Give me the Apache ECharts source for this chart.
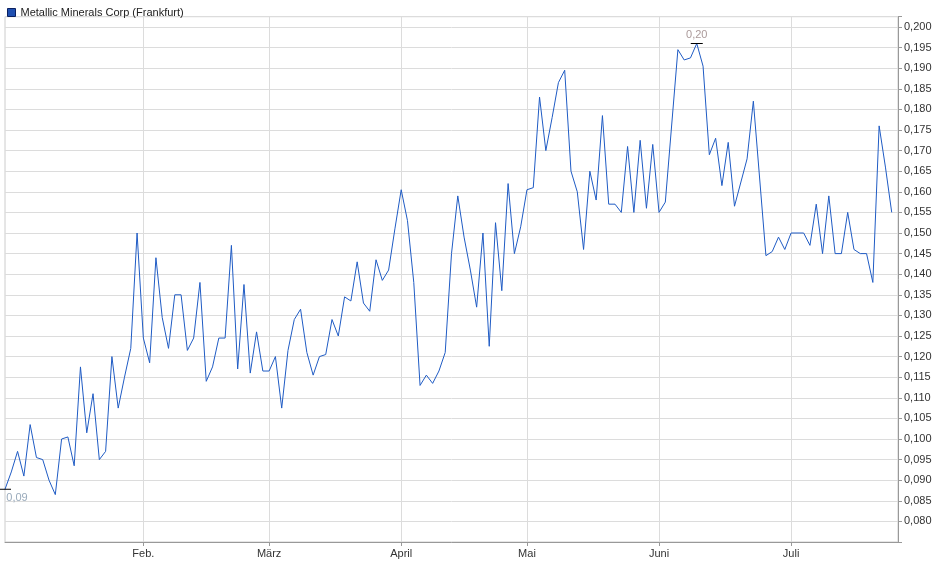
<!DOCTYPE html><html><head><meta charset="utf-8"><script src="https://cdn.jsdelivr.net/npm/echarts@6/dist/echarts.min.js"></script></head><body style="margin:0"><div id="c" style="width:940px;height:579px"></div><script>
const monthLabels = {22:'Feb.',42:'März',63:'April',83:'Mai',104:'Juni',125:'Juli'};
const values = [0.0878,0.092,0.097,0.091,0.1035,0.0955,0.095,0.090,0.0865,0.100,
0.1005,0.0935,0.1175,0.1015,0.111,0.095,0.097,0.120,0.1075,0.115,
0.122,0.150,0.1245,0.1185,0.144,0.1295,0.122,0.135,0.135,0.1215,
0.1245,0.138,0.114,0.1175,0.1245,0.1245,0.147,0.117,0.1375,0.116,
0.126,0.1165,0.1165,0.120,0.1075,0.1215,0.129,0.1315,0.121,0.1155,
0.120,0.1205,0.129,0.125,0.1345,0.1335,0.143,0.133,0.131,0.1435,
0.1385,0.141,0.151,0.1605,0.153,0.138,0.113,0.1155,0.1135,0.1165,
0.121,0.145,0.159,0.149,0.141,0.132,0.150,0.1225,0.1525,0.136,
0.162,0.145,0.1515,0.1605,0.161,0.183,0.170,0.178,0.1865,0.1895,
0.165,0.160,0.146,0.165,0.158,0.1785,0.157,0.157,0.155,0.171,
0.155,0.1725,0.156,0.1715,0.155,0.1575,null,0.1945,0.192,0.1925,
0.196,0.1905,0.169,0.173,0.1615,0.172,0.1565,null,0.168,0.182,
null,0.1445,0.1455,0.149,0.146,0.150,null,0.150,0.147,0.157,
0.145,0.159,0.145,0.145,0.155,0.146,0.145,0.145,0.138,0.176,
0.166,0.155,null];
const cats = values.map((v,i)=>monthLabels[i]||'');
const minLabel='0,09', maxLabel='0,20';
const show=(i)=>!!monthLabels[i];
const chart=echarts.init(document.getElementById('c'));
chart.setOption({
 animation:false,
 legend:{left:2,top:2,itemWidth:8,itemHeight:8,icon:'rect',textStyle:{fontFamily:'Liberation Sans, Arial',fontSize:11,color:'#222'},itemGap:4,
   data:[{name:'Metallic Minerals Corp (Frankfurt)',itemStyle:{color:'#1f4fb0',borderColor:'#0a2060',borderWidth:1}}]},
 grid:{left:5,right:42,top:16.7,bottom:37,show:true,borderColor:'#ccc',borderWidth:1},
 xAxis:{type:'category',data:cats,boundaryGap:false,
   axisLine:{lineStyle:{color:'#999'}},
   axisTick:{show:true,interval:(i)=>show(i),lineStyle:{color:'#999'},length:4},
   axisLabel:{interval:(i)=>show(i),color:'#333',fontFamily:'Liberation Sans, Arial',fontSize:11,margin:6},
   splitLine:{show:true,interval:(i)=>show(i),lineStyle:{color:'#dcdcdc'}}},
 yAxis:{type:'value',position:'right',min:0.075,max:0.2025,interval:0.005,
   axisLine:{show:true,lineStyle:{color:'#999'}},axisTick:{show:true,length:4,lineStyle:{color:'#999'}},
   axisLabel:{color:'#333',fontFamily:'Liberation Sans, Arial',fontSize:11,margin:6,
     formatter:v=>(v<0.0799||v>0.2001)?'':v.toFixed(3).replace('.',',')},
   splitLine:{lineStyle:{color:'#dcdcdc'}}},
 series:[{name:'Metallic Minerals Corp (Frankfurt)',type:'line',data:values,connectNulls:true,showSymbol:false,
   lineStyle:{color:'#1f5bc4',width:1},itemStyle:{color:'#1f4fb0'},
   markPoint:{symbol:'rect',symbolSize:[12,1],itemStyle:{color:'#000'},
     data:[{coord:[0,0.0878],label:{formatter:minLabel,position:'bottom',distance:3,color:'#9ab',fontSize:11,offset:[12,0]}},
           {coord:[110,0.196],label:{formatter:maxLabel,position:'top',distance:3,color:'#a99',fontSize:11}}]}}]
});
</script></body></html>
